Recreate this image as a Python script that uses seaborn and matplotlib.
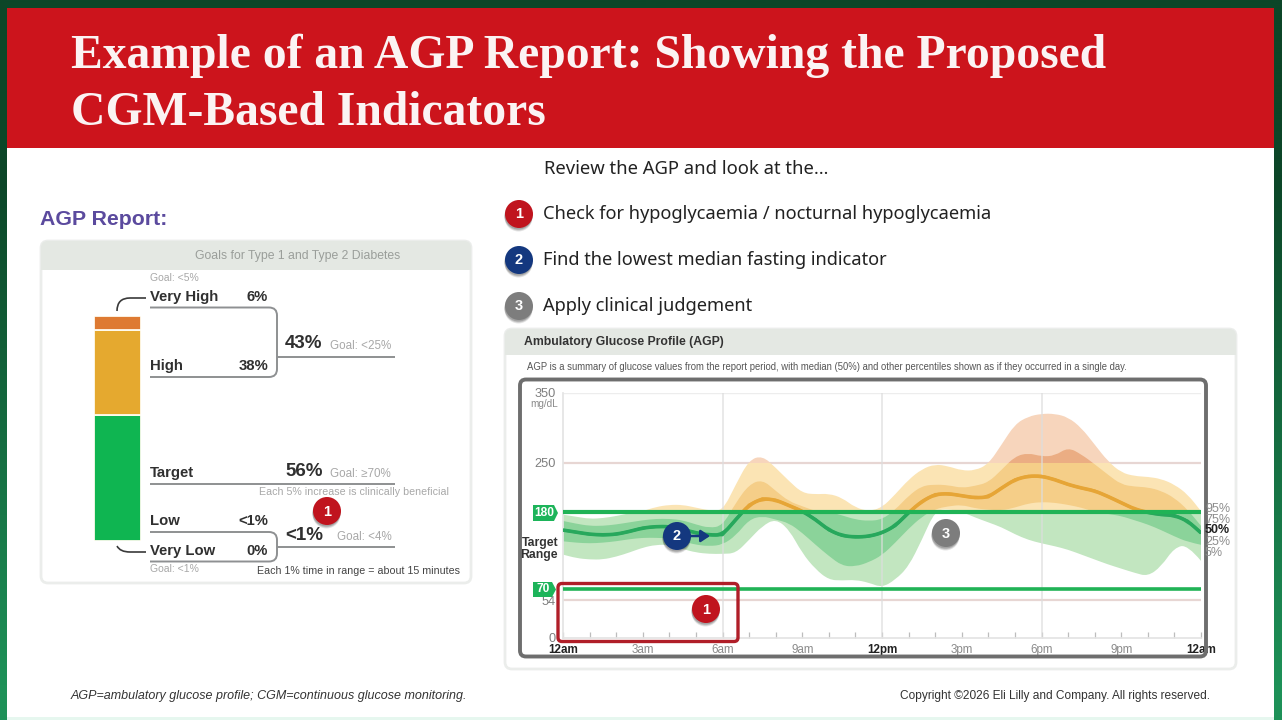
import numpy as np
import matplotlib
matplotlib.use("Agg")
import matplotlib.pyplot as plt
from matplotlib.patches import Rectangle, FancyBboxPatch, Circle, PathPatch, Polygon
from matplotlib.path import Path
import seaborn as sns

# ---------- data ----------
hours = [i / 2 for i in range(49)]
p95 = [176,173,170,171,174,178,181,187,190,190,186,182,181,219,254,260,243,224,207,205,206,200,186,181,
       186,205,226,241,248,245,239,239,248,276,305,316,320,320,315,300,276,252,236,231,230,227,219,205,181]
p75 = [167,163,160,160,162,165,168,170,170,168,162,157,160,193,219,226,210,195,188,181,180,175,169,167,
       169,183,203,217,219,218,214,217,222,240,259,264,259,260,272,262,248,233,219,216,215,210,200,183,160]
p50 = [154,151,148,147,148,152,157,159,159,155,150,147,147,169,190,199,197,189,181,169,154,146,144,145,
       150,160,179,195,205,206,203,200,201,214,226,231,231,226,219,214,210,202,193,184,179,176,175,167,150]
p25 = [138,136,135,136,138,141,143,143,142,138,133,131,133,146,169,174,169,164,150,133,117,103,102,108,
       118,136,156,173,184,188,190,185,183,182,186,192,194,193,190,186,180,177,174,168,162,154,145,137,133]
p05 = [119,114,112,112,116,122,129,133,133,127,122,120,120,121,140,160,170,155,121,98,83,82,83,79,
       72,83,102,140,182,184,180,172,165,158,148,140,135,131,126,119,112,105,99,93,88,102,129,133,110]
stack_values = [56, 38, 6]
stack_colors = ["#0FB551", "#E5A92F", "#DE7A32"]
x_ticks = [0, 3, 6, 9, 12, 15, 18, 21, 24]
x_labels = ["12am", "3am", "6am", "9am", "12pm", "3pm", "6pm", "9pm", "12am"]
y_ticks = [0, 54, 250, 350]
pct_labels = ["95%", "75%", "50%", "25%", "5%"]
bullets = ["Check for hypoglycaemia / nocturnal hypoglycaemia",
           "Find the lowest median fasting indicator", "Apply clinical judgement"]

sns.set_theme(style="white")
plt.rcParams["font.family"] = ["Liberation Sans", "DejaVu Sans"]
W, H = 1282, 720
fig = plt.figure(figsize=(W / 100, H / 100), dpi=100)


def px_axes(x0, y0, x1, y1, **kw):
    return fig.add_axes([x0 / W, 1 - y1 / H, (x1 - x0) / W, (y1 - y0) / H], **kw)


# ---------- slide background ----------
bg = px_axes(0, 0, W, H, zorder=0)
bg.set_xlim(0, W); bg.set_ylim(H, 0); bg.axis("off")
top_col = np.array([12, 70, 40]) / 255
bot_col = np.array([30, 145, 88]) / 255
t = np.clip((np.linspace(0, 1, 256) - 0.25) / 0.7, 0, 1)[:, None, None]
bg.imshow(top_col[None, None, :] * (1 - t) + bot_col[None, None, :] * t,
          extent=[0, W, H, 0], aspect="auto", zorder=0)
bg.set_xlim(0, W); bg.set_ylim(H, 0)
bg.add_patch(Rectangle((7, 148), 1267, 569, fc="#FFFFFF", ec="none", zorder=1))
bg.add_patch(Rectangle((7, 717), 1267, 3, fc="#E6F7EF", ec="none", zorder=1))
bg.add_patch(Rectangle((7, 8), 1267, 139.5, fc="#CC141C", ec="none", zorder=1))
for txt, yb in [("Example of an AGP Report: Showing the Proposed", 68), ("CGM-Based Indicators", 125)]:
    bg.text(71, yb, txt, family="Liberation Serif", weight="bold", size=34.3, color="#FBF3F3",
            va="baseline", ha="left", zorder=3)

# ---------- panels ----------
def panel(x0, y0, x1, y1, head):
    bg.add_patch(FancyBboxPatch((x0, y0), x1 - x0, y1 - y0, boxstyle="round,pad=0,rounding_size=7",
                                fc="#FFFFFF", ec="#EBEDEB", lw=2, zorder=2))
    clip = FancyBboxPatch((x0, y0), x1 - x0, y1 - y0, boxstyle="round,pad=0,rounding_size=7",
                          transform=bg.transData)
    r = Rectangle((x0, y0), x1 - x0, head - y0, fc="#E4E8E3", ec="none", zorder=2.1)
    bg.add_patch(r)
    r.set_clip_path(clip)


panel(41, 241, 471, 583, 270)
panel(505, 329, 1236, 669, 355)

bg.text(40, 225, "AGP Report:", weight="bold", size=15.3, color="#5B4A9E", va="baseline", zorder=3)
bg.text(298, 255.5, "Goals for Type 1 and Type 2 Diabetes", size=8.8, color="#9A9E9A", ha="center", va="center", zorder=3)


def label(x, y, s, size=10.7, color="#303030", weight="bold", ha="left"):
    bg.text(x, y, s, size=size, color=color, weight=weight, ha=ha, va="center", zorder=3)


G = "#A8A8A8"
label(150, 278, "Goal: <5%", 7.5, G, "normal")
label(150, 297, "Very High"); label(268, 297, "6%", ha="right")
label(150, 366, "High"); label(268, 366, "38%", ha="right")
label(150, 473, "Target"); label(285, 472, "56%", 13.5)
label(285, 344, "43%", 13.5); label(330, 346, "Goal: <25%", 8.4, G, "normal")
label(330, 474, "Goal: \u226570%", 8.4, G, "normal")
label(259, 492, "Each 5% increase is clinically beneficial", 7.7, G, "normal")
label(150, 521, "Low"); label(268, 521, "<1%", ha="right")
label(285, 535, "<1%", 13.5); label(337, 537, "Goal: <4%", 8.4, G, "normal")
label(150, 551, "Very Low"); label(268, 551, "0%", ha="right")
label(150, 569, "Goal: <1%", 7.5, G, "normal")
label(257, 571, "Each 1% time in range = about 15 minutes", 7.7, "#444444", "normal")


def curve(points, color="#8E9092", lw=1.4, zorder=2.5, ax=bg):
    verts, codes = [points[0]], [Path.MOVETO]
    for p in points[1:]:
        if len(p) == 3:
            verts += [(p[0], p[1])]; codes += [Path.CURVE3]
        else:
            verts += [p]; codes += [Path.LINETO]
    ax.add_patch(PathPatch(Path(verts, codes), fc="none", ec=color, lw=lw, zorder=zorder))


for y0, y1 in [(307.5, 377), (532, 561.5)]:
    curve([(150, y0), (269, y0), (277, y0, 0), (277, y0 + 8), (277, y1 - 8), (277, y1, 0), (269, y1), (150, y1)])
curve([(277, 357), (395, 357)])
curve([(150, 484), (395, 484)])
curve([(277, 547), (395, 547)])
curve([(117, 311), (117, 298, 0), (130, 298), (146, 298)], color="#3A3A3A", lw=1.2)
curve([(117, 546), (120, 552, 0), (130, 552), (146, 552)], color="#3A3A3A", lw=1.2)

# ---------- stacked time-in-range bar ----------
bar = px_axes(94, 316, 141, 541, zorder=1)
bottom = 0
for val, col in zip(stack_values, stack_colors):
    sns.barplot(x=["TIR"], y=[val], bottom=bottom, color=col, width=1, ax=bar, saturation=1,
                edgecolor="#FFFBEF", linewidth=1.3)
    bottom += val
bar.set_xlim(-0.5, 0.5); bar.set_ylim(0, 100); bar.axis("off")

# ---------- AGP chart ----------
ax = px_axes(563, 392.7, 1201, 638, zorder=1)
ax.patch.set_alpha(0)
h = np.array(hours)


def smooth_run(x, y, first):
    """Quadratic path with the readings as control points: a drawing style, not extra data."""
    pts = np.column_stack([x, y])
    mids = (pts[:-1] + pts[1:]) / 2
    verts = [pts[0]]
    codes = [first]
    for c, m in zip(pts[1:-1], mids[1:]):
        verts += [c, m]
        codes += [Path.CURVE3, Path.CURVE3]
    verts.append(pts[-1]); codes.append(Path.LINETO)
    return verts, codes


def band(lo, hi, color, clip, zorder):
    v1, c1 = smooth_run(h, hi, Path.MOVETO)
    v2, c2 = smooth_run(h[::-1], np.asarray(lo)[::-1], Path.LINETO)
    p = PathPatch(Path(v1 + v2 + [v1[0]], c1 + c2 + [Path.CLOSEPOLY]), fc=color, ec="none", zorder=zorder)
    ax.add_patch(p)
    p.set_clip_path(Rectangle(clip[0], clip[1], clip[2], transform=ax.transData))


zones = [(250, 400, "#F7D5BC", "#EBAD83"), (180, 250, "#FBE4B4", "#F5CE88"), (0, 180, "#C2E6C0", "#8BD39A")]
for lo, hi, light, mid in zones:
    clip = ((0, lo), 24, hi - lo)
    band(p05, p95, light, clip, 2)
    band(p25, p75, mid, clip, 2.1)
for lo, hi, col in [(180, 400, "#E6A536"), (0, 180, "#27A85C")]:
    cl = Rectangle((0, lo), 24, hi - lo, transform=ax.transData)
    sns.lineplot(x=hours, y=p50, color=col, lw=2.0, ax=ax, errorbar=None, zorder=3)
    ax.lines[-1].set_clip_path(cl)
    v, c = smooth_run(h, p50, Path.MOVETO)
    q = PathPatch(Path(v, c), fc="none", ec=col, lw=2.6, zorder=3.1)
    ax.add_patch(q)
    q.set_clip_path(Rectangle((0, lo), 24, hi - lo, transform=ax.transData))
ax.axhline(180, color="#20B356", lw=3, zorder=4)
ax.axhline(70, color="#20B356", lw=2.6, zorder=4)
for yv in [54, 250]:
    ax.axhline(yv, color="#E7D6D3", lw=1.6, zorder=1)
ax.axhline(350, color="#EDEDED", lw=1, zorder=1)
for xv in [6, 12, 18]:
    ax.axvline(xv, color="#DDDDDD", alpha=0.75, lw=1.2, zorder=2.5)
ax.set_xlim(0, 24); ax.set_ylim(0, 350)
ax.set_xticks(x_ticks); ax.set_xticklabels(x_labels)
ax.set_xticks(range(25), minor=True)
ax.set_yticks(y_ticks)
ax.tick_params(axis="x", which="both", direction="in", length=4, width=0.9, color="#BDBDBD", bottom=True, pad=4)
ax.tick_params(axis="x", labelsize=8.4, labelcolor="#8A8A8A")
ax.tick_params(axis="y", length=0, pad=5, labelsize=9.2, labelcolor="#7E7E7E")
for i in [0, 4, 8]:
    ax.get_xticklabels()[i].set_color("#222222"); ax.get_xticklabels()[i].set_fontweight("bold")
sns.despine(ax=ax, top=True, right=True)
ax.spines["left"].set_color("#E4E4E4"); ax.spines["bottom"].set_color("#E4E4E4")
ax.grid(False)

# ---------- overlay ----------
ov = px_axes(0, 0, W, H, zorder=3)
ov.set_xlim(0, W); ov.set_ylim(H, 0); ov.axis("off"); ov.patch.set_alpha(0)


def otext(x, y, s, **kw):
    kw.setdefault("va", "center")
    ov.text(x, y, s, **kw)


otext(524, 342, "Ambulatory Glucose Profile (AGP)", size=8.8, weight="bold", color="#333333")
otext(527, 366.5, "AGP is a summary of glucose values from the report period, with median (50%) and other "
      "percentiles shown as if they occurred in a single day.", size=6.85, color="#555555")
otext(558, 404, "mg/dL", size=7.2, color="#8A8A8A", ha="right")
otext(558, 549, "Target\nRange", size=8.8, weight="bold", color="#333333", ha="right", linespacing=1.1)
for (x0, x1, y0, y1, s) in [(533, 558, 505, 521, "180"), (533, 556, 582, 597, "70")]:
    ov.add_patch(Polygon([(x0, y0), (x1 - 4, y0), (x1, (y0 + y1) / 2), (x1 - 4, y1), (x0, y1)],
                         fc="#1DB45A", ec="none"))
    otext((x0 + x1) / 2 - 1, (y0 + y1) / 2, s, size=8.6, weight="bold", color="#FFFFFF", ha="center")
for s, y in zip(pct_labels, [509, 520, 530, 542, 553]):
    otext(1205, y, s, size=9, color="#222222" if s == "50%" else "#8E8E8E",
          weight="bold" if s == "50%" else "normal")

# annotation frames
ov.add_patch(FancyBboxPatch((520, 379.5), 686, 277, boxstyle="round,pad=0,rounding_size=6",
                            fc="none", ec="#6E6E6E", lw=2.8))
ov.add_patch(FancyBboxPatch((558, 583.5), 180, 58, boxstyle="round,pad=0,rounding_size=4",
                            fc="none", ec="#B01E28", lw=2.4))


def badge(x, y, n, col, r=14):
    for k, al in [(3.5, 0.10), (2.5, 0.14), (1.5, 0.16)]:
        ov.add_patch(Circle((x - 0.5, y + k), r, fc="#000000", alpha=al, ec="none"))
    ov.add_patch(Circle((x, y), r, fc=col, ec="none"))
    otext(x, y + 0.5, n, size=10.5, weight="bold", color="#FFFFFF", ha="center")


RED, BLUE, GREY = "#C0141E", "#14387F", "#7D7D7D"
badge(327, 511, "1", RED)
for (y, n, col, s) in zip([214, 260, 306], ["1", "2", "3"], [RED, BLUE, GREY], bullets):
    badge(519, y, n, col)
    otext(543, y, s, family="Noto Sans", size=13.15, color="#222222")
otext(544, 168.5, "Review the AGP and look at the\u2026", family="Noto Sans", size=13.3, color="#222222")
badge(706, 609, "1", RED)
badge(677, 536, "2", BLUE)
badge(946, 533, "3", GREY)
ov.annotate("", xy=(710, 536), xytext=(690, 536),
            arrowprops=dict(arrowstyle="-|>,head_width=0.3,head_length=0.45", color=BLUE, lw=1.8, shrinkA=0, shrinkB=0))

otext(71, 695.5, "AGP=ambulatory glucose profile; CGM=continuous glucose monitoring.", size=9.0,
      style="italic", color="#333333")
otext(1210, 696.5, "Copyright \u00a92026 Eli Lilly and Company. All rights reserved.", size=8.55,
      color="#333333", ha="right")

fig.savefig("out.png", dpi=100)
